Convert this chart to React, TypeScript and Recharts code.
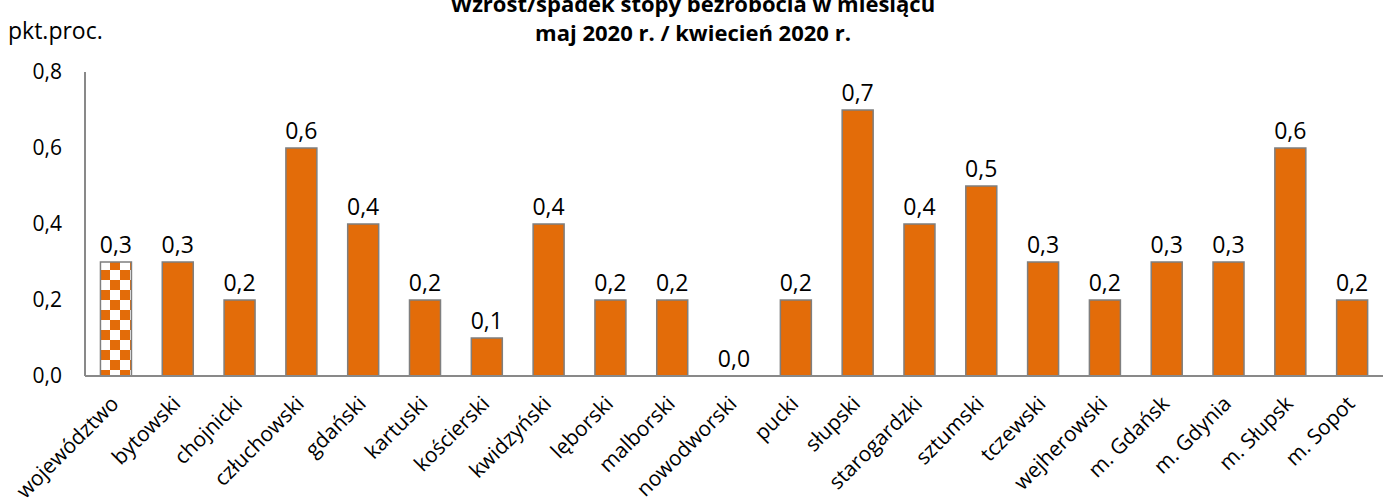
import { ComposedChart, Bar, Line, XAxis, YAxis, LabelList, Cell } from "recharts"

const regions = [
  "województwo", "bytowski", "chojnicki", "człuchowski", "gdański", "kartuski",
  "kościerski", "kwidzyński", "lęborski", "malborski", "nowodworski", "pucki",
  "słupski", "starogardzki", "sztumski", "tczewski", "wejherowski",
  "m. Gdańsk", "m. Gdynia", "m. Słupsk", "m. Sopot",
]
const changes = [
  0.3, 0.3, 0.2, 0.6, 0.4, 0.2, 0.1, 0.4, 0.2, 0.2, 0.0, 0.2,
  0.7, 0.4, 0.5, 0.3, 0.2, 0.3, 0.3, 0.6, 0.2,
]
const yTicks = [0, 0.2, 0.4, 0.6, 0.8]

const data = regions.map((name, i) => ({ name, value: changes[i] }))

const font = "'Open Sans', sans-serif"
const fmt = (v: number) => v.toFixed(1).replace(".", ",")

function RotatedTick({ x, y, payload }: any) {
  return (
    <g transform={`translate(${x + 4},${y + 21})`}>
      <text transform="rotate(-45)" textAnchor="end" fontSize={21} fontFamily={font} fill="#000">
        {payload.value}
      </text>
    </g>
  )
}

export default function App() {
  return (
    <div style={{ position: "absolute", left: 0, top: 0, width: 1386, height: 504, background: "#fff", fontFamily: font, overflow: "hidden" }}>
      {/* title, top line partly cut like in the source */}
      <div style={{ position: "absolute", left: 0, width: 1386, top: -11, textAlign: "center", fontWeight: 700, fontSize: 22, lineHeight: "29px", color: "#000" }}>
        <div>Wzrost/spadek stopy bezrobocia w miesiącu</div>
        <div>maj 2020 r. / kwiecień 2020 r.</div>
      </div>
      <div style={{ position: "absolute", left: 8, top: 14, fontSize: 23, color: "#000" }}>pkt.proc.</div>

      <ComposedChart
        width={1386}
        height={504}
        data={data}
        margin={{ top: 72, right: 3, bottom: 0, left: 0 }}
        barCategoryGap="25%"
      >
        <defs>
          <pattern id="checker" width="20" height="20" patternUnits="userSpaceOnUse">
            <rect width="20" height="20" fill="#fff" />
            <rect x="10" y="0" width="10" height="10" fill="#E36C09" />
            <rect x="0" y="10" width="10" height="10" fill="#E36C09" />
          </pattern>
        </defs>
        <XAxis
          dataKey="name"
          interval={0}
          height={128}
          tickLine={false}
          axisLine={{ stroke: "#898989", strokeWidth: 2 }}
          tick={<RotatedTick />}
        />
        <YAxis
          width={85}
          domain={[0, 0.8]}
          ticks={yTicks}
          tickFormatter={fmt}
          tickLine={false}
          tickMargin={17}
          axisLine={{ stroke: "#898989", strokeWidth: 2 }}
          tick={{ fontSize: 21, fontFamily: font, fill: "#000" }}
        />
        <Bar dataKey="value" stroke="#7f7f7f" strokeWidth={1.5} isAnimationActive={false}>
          {data.map((d, i) => (
            <Cell key={d.name} fill={i === 0 ? "url(#checker)" : "#E36C09"} />
          ))}
        </Bar>
        {/* invisible series that carries the value labels (also for the zero bar) */}
        <Line dataKey="value" stroke="none" dot={false} activeDot={false} isAnimationActive={false}>
          <LabelList
            dataKey="value"
            position="top"
            offset={9}
            formatter={(v: any) => fmt(Number(v))}
            style={{ fontSize: 23, fontFamily: font, fill: "#000" }}
          />
        </Line>
      </ComposedChart>
    </div>
  )
}
